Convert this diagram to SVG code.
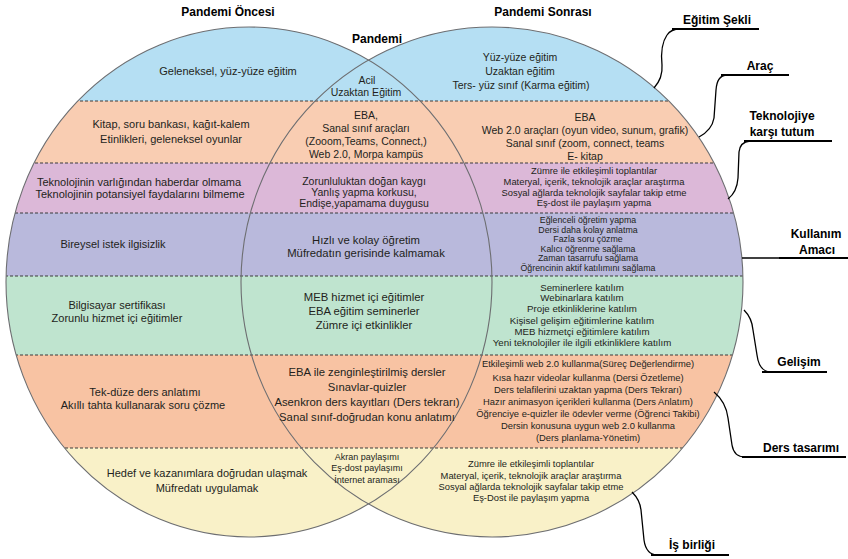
<svg xmlns="http://www.w3.org/2000/svg" width="848" height="559" viewBox="0 0 848 559">
<style>
text{font-family:"Liberation Sans",Arial,sans-serif;fill:#231f20;text-anchor:middle}
.t{font-weight:bold;font-size:12px;fill:#000}
.l{font-size:11px}
.m{font-size:10.5px}
.mb{font-size:11.3px}
.ms{font-size:9px}
.r{font-size:10.5px}
.rs{font-size:9.4px}
.rg{font-size:9.7px}
.rx{font-size:8.8px}
.dash{stroke:#3a3a3a;stroke-width:1;stroke-dasharray:3 2;fill:none}
.edge{fill:none;stroke:#6d6e71;stroke-width:1.1}
.lead{fill:none;stroke:#000;stroke-width:1.3}
.ul{fill:none;stroke:#000;stroke-width:2.2}
</style>
<defs>
<clipPath id="u">
<ellipse cx="249" cy="282" rx="243" ry="255"/>
<ellipse cx="492" cy="282" rx="251" ry="255"/>
</clipPath>
</defs>
<rect width="848" height="559" fill="#fff"/>
<g id="bands" clip-path="url(#u)">
<rect x="0" y="0" width="848" height="101" fill="#b5dff3"/>
<rect x="0" y="101" width="848" height="62" fill="#f9cdb2"/>
<rect x="0" y="163" width="848" height="50" fill="#dcb8d8"/>
<rect x="0" y="213" width="848" height="63" fill="#b9b9dc"/>
<rect x="0" y="276" width="848" height="79" fill="#bfe4cf"/>
<rect x="0" y="355" width="848" height="93" fill="#f8c3a3"/>
<rect x="0" y="448" width="848" height="111" fill="#f9f1c8"/>
<path class="dash" d="M0 101H848M0 163H848M0 213H848M0 276H848M0 355H848M0 448H848"/>
</g>
<g id="circles">
<ellipse class="edge" cx="249" cy="282" rx="243" ry="255"/>
<ellipse class="edge" cx="492" cy="282" rx="251" ry="255"/>
</g>
<g id="titles">
<text class="t" x="228" y="16">Pandemi Öncesi</text>
<text class="t" x="543" y="16">Pandemi Sonrası</text>
<text class="t" x="377" y="43">Pandemi</text>
</g>
<g id="connectors">
<path class="lead" d="M654 88Q663 78 662 65Q660 45 667 35Q671 29 680 29"/>
<path class="ul" d="M672 29H759"/>
<path class="lead" d="M699 137Q712 130 714 118L716 90Q717 76 726 75"/>
<path class="ul" d="M721 75H789"/>
<path class="lead" d="M728 199Q737 192 738 178L739 152Q740 142 750 141"/>
<path class="ul" d="M744 141H832"/>
<path class="lead" d="M742 258H780"/>
<path class="ul" d="M779 258H848"/>
<path class="lead" d="M744 310Q752 318 753 330L757 355Q759 371 770 372"/>
<path class="ul" d="M762 372H827"/>
<path class="lead" d="M714 392Q726 402 728 418L732 445Q734 457 745 457"/>
<path class="ul" d="M742 457H846"/>
<path class="lead" d="M632 492Q640 500 641 510L644 540Q646 555 658 555"/>
<path class="ul" d="M651 555H729"/>
</g>
<g id="label-egitim-sekli"><text class="t" x="717" y="24">Eğitim Şekli</text></g>
<g id="label-arac"><text class="t" x="760" y="70">Araç</text></g>
<g id="label-teknoloji"><text class="t" x="782" y="120">Teknolojiye</text><text class="t" x="782" y="136">karşı tutum</text></g>
<g id="label-kullanim"><text class="t" x="816" y="238">Kullanım</text><text class="t" x="817" y="254">Amacı</text></g>
<g id="label-gelisim"><text class="t" x="799" y="366">Gelişim</text></g>
<g id="label-ders"><text class="t" x="801" y="452">Ders tasarımı</text></g>
<g id="label-isbirligi"><text class="t" x="692" y="549">İş birliği</text></g>

<g id="blue-left"><text class="l" x="228" y="75">Geleneksel, yüz-yüze eğitim</text></g>
<g id="blue-mid"><text class="m" x="367" y="84">Acil</text><text class="m" x="366" y="96">Uzaktan Eğitim</text></g>
<g id="blue-right"><text class="r" x="520" y="61">Yüz-yüze eğitim</text><text class="r" x="520" y="75">Uzaktan eğitim</text><text class="r" x="521" y="89">Ters- yüz sınıf (Karma eğitim)</text></g>

<g id="peach-left"><text class="l" x="171" y="128">Kitap, soru bankası, kağıt-kalem</text><text class="l" x="171" y="143">Etinlikleri, geleneksel oyunlar</text></g>
<g id="peach-mid"><text class="m" x="366" y="119">EBA,</text><text class="m" x="366" y="132">Sanal sınıf araçları</text><text class="m" x="366" y="145">(Zooom,Teams, Connect,)</text><text class="m" x="366" y="158">Web 2.0, Morpa kampüs</text></g>
<g id="peach-right"><text class="r" x="585" y="121">EBA</text><text class="r" x="585" y="134">Web 2.0 araçları (oyun video, sunum, grafik)</text><text class="r" x="585" y="147">Sanal sınıf (zoom, connect, teams</text><text class="r" x="585" y="160">E- kitap</text></g>

<g id="pink-left"><text class="l" x="139" y="186">Teknolojinin varlığından haberdar olmama</text><text class="l" x="140" y="198">Teknolojinin potansiyel faydalarını bilmeme</text></g>
<g id="pink-mid"><text class="m" x="364" y="185">Zorunluluktan doğan kaygı</text><text class="m" x="364" y="196">Yanlış yapma korkusu,</text><text class="m" x="364" y="207">Endişe,yapamama duygusu</text></g>
<g id="pink-right"><text class="rs" x="594" y="174">Zümre ile etkileşimli toplantılar</text><text class="rs" x="594" y="185">Materyal, içerik, teknolojik araçlar araştırma</text><text class="rs" x="594" y="196">Sosyal ağlarda teknolojik sayfalar takip etme</text><text class="rs" x="594" y="206">Eş-dost ile paylaşım yapma</text></g>

<g id="lav-left"><text class="l" x="113" y="248">Bireysel istek  ilgisizlik</text></g>
<g id="lav-mid"><text class="mb" x="366" y="244">Hızlı ve kolay öğretim</text><text class="mb" x="366" y="257">Müfredatın gerisinde kalmamak</text></g>
<g id="lav-right"><text class="rx" x="588" y="223">Eğlenceli öğretim yapma</text><text class="rx" x="588" y="232.5">Dersi daha kolay anlatma</text><text class="rx" x="588" y="242">Fazla soru çözme</text><text class="rx" x="588" y="252">Kalıcı öğrenme sağlama</text><text class="rx" x="588" y="261">Zaman tasarrufu sağlama</text><text class="rx" x="588" y="271">Öğrencinin aktif katılımını sağlama</text></g>

<g id="green-left"><text class="l" x="117" y="309">Bilgisayar sertifikası</text><text class="l" x="117" y="322">Zorunlu hizmet içi eğitimler</text></g>
<g id="green-mid"><text class="mb" x="364" y="301">MEB hizmet içi eğitimler</text><text class="mb" x="364" y="315">EBA eğitim seminerler</text><text class="mb" x="364" y="329">Zümre içi etkinlikler</text></g>
<g id="green-right"><text class="rg" x="582" y="290.5">Seminerlere katılım</text><text class="rg" x="582" y="301">Webinarlara katılım</text><text class="rg" x="582" y="312">Proje etkinliklerine katılım</text><text class="rg" x="582" y="323.5">Kişisel gelişim eğitimlerine katılım</text><text class="rg" x="582" y="334.5">MEB hizmetçi eğitimlere katılım</text><text class="rg" x="582" y="345.5">Yeni teknolojiler ile ilgili etkinliklere katılım</text></g>

<g id="salmon-left"><text class="l" x="145" y="396">Tek-düze ders anlatımı</text><text class="l" x="143" y="409">Akıllı tahta kullanarak soru çözme</text></g>
<g id="salmon-mid"><text class="mb" x="367" y="376">EBA ile zenginleştirilmiş dersler</text><text class="mb" x="367" y="391">Sınavlar-quizler</text><text class="mb" x="367" y="406">Asenkron ders kayıtları (Ders tekrarı)</text><text class="mb" x="367" y="421">Sanal sınıf-doğrudan konu anlatımı</text></g>
<g id="salmon-right"><text class="rs" x="588" y="367">Etkileşimli web 2.0 kullanma(Süreç Değerlendirme)</text><text class="rs" x="588" y="381">Kısa hazır videolar kullanma (Dersi Özetleme)</text><text class="rs" x="588" y="393">Ders telafilerini uzaktan yapma (Ders Tekrarı)</text><text class="rs" x="588" y="405">Hazır animasyon içerikleri kullanma (Ders Anlatım)</text><text class="rs" x="588" y="417">Öğrenciye e-quizler ile ödevler verme (Öğrenci Takibi)</text><text class="rs" x="588" y="429">Dersin konusuna uygun web 2.0 kullanma</text><text class="rs" x="588" y="441">(Ders planlama-Yönetim)</text></g>

<g id="yellow-left"><text class="l" x="207" y="477">Hedef ve kazanımlara doğrudan ulaşmak</text><text class="l" x="207" y="492">Müfredatı uygulamak</text></g>
<g id="yellow-mid"><text class="ms" x="367" y="460">Akran paylaşımı</text><text class="ms" x="367" y="471">Eş-dost paylaşımı</text><text class="ms" x="367" y="483">İnternet araması</text></g>
<g id="yellow-right"><text class="rs" x="531" y="467">Zümre ile etkileşimli toplantılar</text><text class="rs" x="531" y="479">Materyal, içerik, teknolojik araçlar araştırma</text><text class="rs" x="531" y="490">Sosyal ağlarda teknolojik sayfalar takip etme</text><text class="rs" x="531" y="501">Eş-Dost ile paylaşım yapma</text></g>
</svg>
